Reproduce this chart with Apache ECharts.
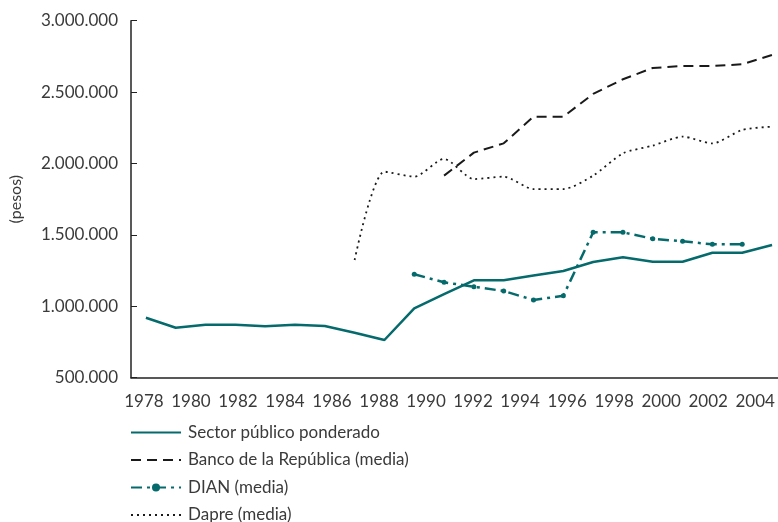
<!DOCTYPE html>
<html>
<head>
<meta charset="utf-8">
<script src="https://cdn.jsdelivr.net/npm/echarts@6/dist/echarts.min.js"></script>
<style>
html,body{margin:0;padding:0;background:#fff;}
#chart{width:778px;height:522px;}
</style>
</head>
<body>
<div id="chart"></div>
<script>
// Point positions along the chart (evenly spaced observations)
const pointIndex = [0,1,2,3,4,5,6,7,8,9,10,11,12,13,14,15,16,17,18,19,20,21];
// Year tick labels shown under the axis
const yearLabels = [1978,1980,1982,1984,1986,1988,1990,1992,1994,1996,1998,2000,2002,2004];

const sectorPublico = [920000,850000,870000,870000,860000,870000,862000,815000,764000,986000,1085000,1182000,1182000,1215000,1247000,1310000,1343000,1312000,1312000,1375000,1375000,1429000];
const bancoRepublica = [null,null,null,null,null,null,null,null,null,null,1915000,2076000,2141000,2328000,2328000,2487000,2590000,2669000,2683000,2683000,2695000,2760000];
const dian = [null,null,null,null,null,null,null,null,null,1224000,1168000,1137000,1107000,1044000,1074000,1518000,1518000,1473000,1455000,1434000,1434000,null];
const dapre = [null,null,null,null,null,null,null,1324000,1943000,1908000,2032000,1891000,1908000,1821000,1821000,1915000,2071000,2125000,2188000,2141000,2235000,2258000];

const seriesNames = ['Sector público ponderado','Banco de la República (media)','DIAN (media)','Dapre (media)'];

function pairs(arr){ return pointIndex.map((k,i)=>[k, arr[i]]); }
function fmt(v){ return String(Math.round(v)).replace(/\B(?=(\d{3})+(?!\d))/g,'.'); }

const teal = '#046a6c';
const txt = '#3a3a3a';
const font = 'Lato';

const chart = echarts.init(document.getElementById('chart'));
chart.setOption({
  animation:false,
  textStyle:{fontFamily:font,color:txt},
  grid:{left:127,right:0,top:20.7,bottom:144.3,containLabel:false},
  xAxis:[
    {type:'value',min:1977.45,max:2004.97,position:'bottom',
     axisLine:{show:true,onZero:false,lineStyle:{color:'#222',width:1.5}},
     axisTick:{show:false},splitLine:{show:false},
     axisLabel:{customValues:yearLabels,color:txt,fontSize:17,fontFamily:font,margin:15,formatter:v=>String(v)}},
    {type:'value',min:-0.5,max:21.2,show:false,axisLine:{onZero:false}}
  ],
  yAxis:{type:'value',min:500000,max:3000000,interval:500000,
    name:'(pesos)',nameLocation:'middle',nameRotate:90,nameGap:107,
    nameTextStyle:{color:txt,fontSize:16,fontFamily:font},
    axisLine:{show:true,onZero:false,lineStyle:{color:'#222',width:1.5}},
    axisTick:{show:true,inside:true,length:6,lineStyle:{color:'#222'}},
    splitLine:{show:false},
    axisLabel:{color:txt,fontSize:17,fontFamily:font,margin:13,formatter:v=>fmt(v)}},
  legend:{orient:'vertical',left:125,top:419,height:103,itemWidth:50,itemHeight:10,itemGap:10.5,
    textStyle:{color:txt,fontSize:17,fontFamily:font,padding:[0,0,0,2]},
    data:[
      {name:seriesNames[0],itemStyle:{opacity:0}},
      {name:seriesNames[1],itemStyle:{opacity:0}},
      {name:seriesNames[2]},
      {name:seriesNames[3],itemStyle:{opacity:0}}
    ]},
  series:[
    {name:seriesNames[0],type:'line',xAxisIndex:1,data:pairs(sectorPublico),symbol:'none',
     lineStyle:{color:teal,width:2.5},itemStyle:{color:teal}},
    {name:seriesNames[1],type:'line',xAxisIndex:1,data:pairs(bancoRepublica),symbol:'none',
     lineStyle:{color:'#1a1a1a',width:2,type:[10,6]},itemStyle:{color:'#1a1a1a'}},
    {name:seriesNames[2],type:'line',xAxisIndex:1,data:pairs(dian),symbol:'circle',symbolSize:5,
     lineStyle:{color:teal,width:2.5,type:[11,5,3,5]},itemStyle:{color:teal}},
    {name:seriesNames[3],type:'line',xAxisIndex:1,data:pairs(dapre),symbol:'none',smooth:0.25,
     lineStyle:{color:'#1a1a1a',width:1.8,type:[2,4]},itemStyle:{color:'#1a1a1a'}}
  ]
});
</script>
</body>
</html>
